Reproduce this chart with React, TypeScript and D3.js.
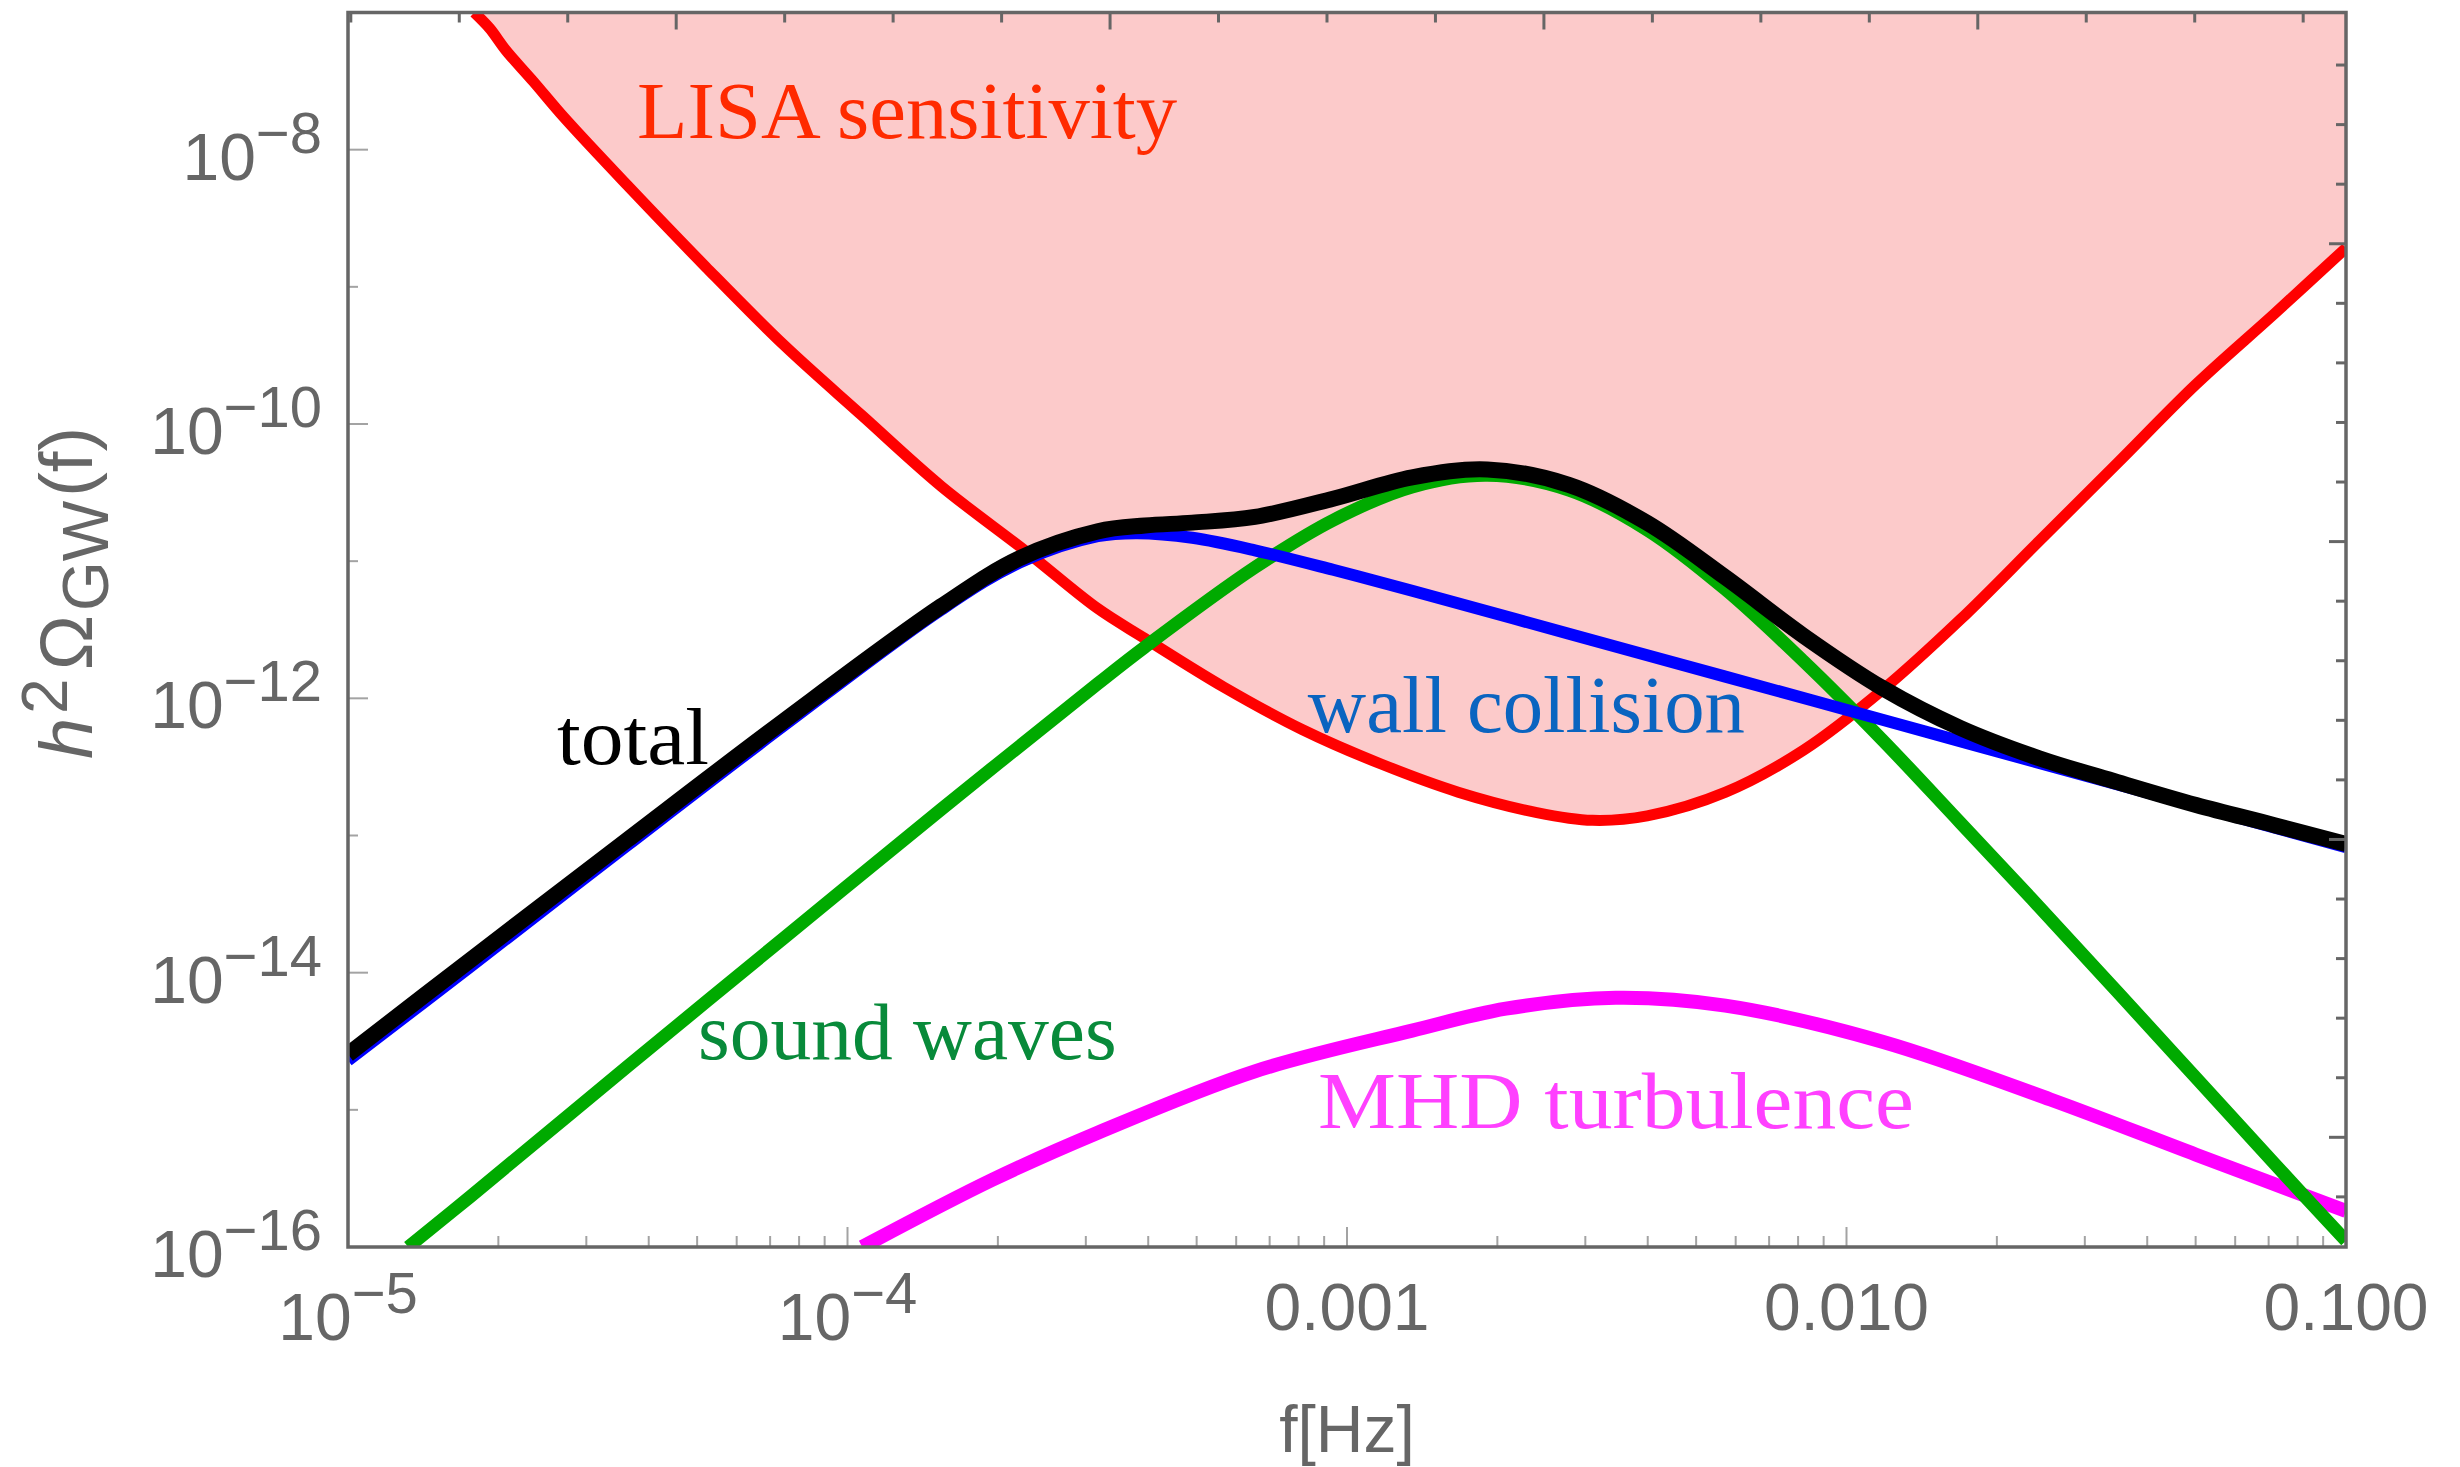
import React, { useEffect, useRef } from 'react';
import * as d3 from 'd3';

type Pt = [number, number];

// [f in Hz, h^2 Omega_GW]
const lisaSensitivity: Pt[] = [
  [1.79e-5, 1.0e-7], [1.92e-5, 7.69e-8], [2.07e-5, 5.31e-8], [2.35e-5, 3.14e-8],
  [2.71e-5, 1.71e-8], [3.62e-5, 5.52e-9], [5.2e-5, 1.4e-9], [7.46e-5, 3.76e-10],
  [1.07e-4, 1.15e-10], [1.54e-4, 3.52e-11], [2.29e-4, 1.16e-11], [3.17e-4, 4.51e-12],
  [3.94e-4, 2.73e-12], [5.66e-4, 1.21e-12], [8.13e-4, 5.93e-13], [1.17e-3, 3.32e-13],
  [1.67e-3, 2.07e-13], [2.4e-3, 1.47e-13], [3.1e-3, 1.29e-13], [3.99e-3, 1.39e-13],
  [5.73e-3, 2.07e-13], [8.22e-3, 4.21e-13], [1.18e-2, 1.15e-12], [1.69e-2, 3.75e-12],
  [2.43e-2, 1.4e-11], [3.49e-2, 5.21e-11], [5.01e-2, 1.95e-10], [7.19e-2, 6.37e-10],
  [0.1, 1.92e-9],
];

const wallCollision: Pt[] = [
  [1.0e-5, 2.29e-15], [1.76e-5, 1.11e-14], [3.62e-5, 8.45e-14], [7.46e-5, 6.33e-13],
  [1.54e-4, 4.43e-12], [2.21e-4, 9.77e-12], [3.17e-4, 1.52e-11], [3.8e-4, 1.6e-11],
  [4.9e-4, 1.48e-11], [6.54e-4, 1.2e-11], [9.38e-4, 8.65e-12], [1.35e-3, 6.09e-12],
  [2.78e-3, 2.96e-12], [5.72e-3, 1.44e-12], [1.18e-2, 6.98e-13], [2.43e-2, 3.38e-13],
  [5.01e-2, 1.64e-13], [0.1, 8.22e-14],
];

const soundWaves: Pt[] = [
  [1.32e-5, 1.0e-16], [1.76e-5, 2.34e-16], [3.62e-5, 2.06e-15], [7.46e-5, 1.79e-14],
  [1.54e-4, 1.55e-13], [3.17e-4, 1.28e-12], [3.94e-4, 2.37e-12], [6.54e-4, 9.0e-12],
  [9.38e-4, 1.99e-11], [1.35e-3, 3.48e-11], [1.91e-3, 4.23e-11], [2.78e-3, 3.3e-11],
  [3.99e-3, 1.69e-11], [5.72e-3, 6.23e-12], [8.21e-3, 1.86e-12], [1.18e-2, 4.97e-13],
  [1.69e-2, 1.24e-13], [2.43e-2, 3.02e-14], [3.49e-2, 7.21e-15], [5.01e-2, 1.71e-15],
  [7.19e-2, 4.05e-16], [0.1, 1.11e-16],
];

const mhdTurbulence: Pt[] = [
  [1.07e-4, 1.0e-16], [1.95e-4, 3.09e-16], [3.17e-4, 6.81e-16], [6.54e-4, 1.91e-15],
  [1.35e-3, 3.78e-15], [2.08e-3, 5.46e-15], [3.45e-3, 6.56e-15], [5.72e-3, 5.75e-15],
  [1.18e-2, 3.14e-15], [2.56e-2, 1.19e-15], [5.01e-2, 4.71e-16], [0.1, 1.83e-16],
];

const totalSignal: Pt[] = [
  [1.0e-5, 2.54e-15], [1.76e-5, 1.24e-14], [3.62e-5, 9.27e-14], [7.46e-5, 6.85e-13],
  [1.54e-4, 4.69e-12], [2.21e-4, 1.05e-11], [3.17e-4, 1.65e-11], [3.94e-4, 1.82e-11],
  [4.9e-4, 1.91e-11], [6.54e-4, 2.1e-11], [9.38e-4, 2.85e-11], [1.35e-3, 4.08e-11],
  [1.91e-3, 4.66e-11], [2.78e-3, 3.6e-11], [3.99e-3, 1.9e-11], [5.72e-3, 7.62e-12],
  [8.21e-3, 2.85e-12], [1.18e-2, 1.19e-12], [1.69e-2, 6.08e-13], [2.43e-2, 3.66e-13],
  [3.49e-2, 2.45e-13], [5.01e-2, 1.67e-13], [7.19e-2, 1.19e-13], [0.1, 8.67e-14],
];

// drawing order follows the original: turbulence, sound waves, wall, total on top
const curveData = [mhdTurbulence, soundWaves, wallCollision, totalSignal];
const curveColors = ['#ff00ff', '#00aa00', '#0000ff', '#000000'];
const curveWidths = [14, 13, 12, 16];

const labelTexts = ['LISA sensitivity', 'total', 'wall collision', 'sound waves', 'MHD turbulence'];
const labelColors = ['#ff2a00', '#000000', '#0a64c0', '#088a3a', '#ff40ff'];
const labelStart: Pt[] = [
  [3.79e-5, 1.22e-8], [2.62e-5, 3.32e-13], [8.35e-4, 5.69e-13], [5.02e-5, 2.35e-15], [8.75e-4, 7.38e-16],
];
const labelEndF = [4.57e-4, 5.28e-5, 6.26e-3, 3.46e-4, 1.365e-2];

const xDomain: Pt = [1e-5, 0.1];
const yDomain: Pt = [1e-16, 1e-7];
const xTickValues = [1e-5, 1e-4, 1e-3, 1e-2, 1e-1];
const xTickLabels = ['10^−5', '10^−4', '0.001', '0.010', '0.100'];
const yTickValues = [1e-16, 1e-14, 1e-12, 1e-10, 1e-8];
const yTickLabels = ['10^−16', '10^−14', '10^−12', '10^−10', '10^−8'];

const SANS = 'Liberation Sans, Arial, sans-serif';
const SERIF = 'Liberation Serif, Times New Roman, serif';
const GRAY = '#666666';

const App = () => {
  const svgRef = useRef<SVGSVGElement | null>(null);
  const width = 2460;
  const height = 1467;

  useEffect(() => {
    document.body.style.margin = '0';
    const svg = d3.select(svgRef.current);
    svg.selectAll('*').remove();

    const margin = { left: 348, right: 2346, top: 12.5, bottom: 1247 };
    const x = d3.scaleLog().domain(xDomain).range([margin.left, margin.right]);
    const y = d3.scaleLog().domain(yDomain).range([margin.bottom, margin.top]);

    svg.append('rect').attr('width', width).attr('height', height).attr('fill', '#ffffff');

    svg
      .append('defs')
      .append('clipPath')
      .attr('id', 'plot-clip')
      .append('rect')
      .attr('x', margin.left)
      .attr('y', margin.top)
      .attr('width', margin.right - margin.left)
      .attr('height', margin.bottom - margin.top);

    const plot = svg.append('g').attr('clip-path', 'url(#plot-clip)');

    const line = d3
      .line<Pt>()
      .x((d) => x(d[0]))
      .y((d) => y(d[1]))
      .curve(d3.curveCatmullRom.alpha(0.5));
    const area = d3
      .area<Pt>()
      .x((d) => x(d[0]))
      .y0(margin.top)
      .y1((d) => y(d[1]))
      .curve(d3.curveCatmullRom.alpha(0.5));

    plot.append('path').datum(lisaSensitivity).attr('d', area).attr('fill', '#fccaca');
    plot
      .append('path')
      .datum(lisaSensitivity)
      .attr('d', line)
      .attr('fill', 'none')
      .attr('stroke', '#ff0000')
      .attr('stroke-width', 11)
      .attr('stroke-linejoin', 'round');

    curveData.forEach((data, i) => {
      plot
        .append('path')
        .datum(data)
        .attr('d', line)
        .attr('fill', 'none')
        .attr('stroke', curveColors[i])
        .attr('stroke-width', curveWidths[i])
        .attr('stroke-linejoin', 'round');
    });

    // labels inside the plot
    labelTexts.forEach((text, i) => {
      const x0 = x(labelStart[i][0]);
      svg
        .append('text')
        .attr('x', x0)
        .attr('y', y(labelStart[i][1]))
        .attr('fill', labelColors[i])
        .attr('font-family', SERIF)
        .attr('font-size', 80)
        .attr('textLength', x(labelEndF[i]) - x0)
        .attr('lengthAdjust', 'spacingAndGlyphs')
        .text(text);
    });

    // ticks
    const ticks = svg.append('g');
    const tick = (x1: number, y1: number, x2: number, y2: number, color: string, w: number) =>
      ticks
        .append('line')
        .attr('x1', x1)
        .attr('y1', y1)
        .attr('x2', x2)
        .attr('y2', y2)
        .attr('stroke', color)
        .attr('stroke-width', w);

    // bottom: decades + minor 2..9
    for (let n = -5; n <= -1; n += 1) {
      for (let k = 1; k <= 9; k += 1) {
        const f = k * Math.pow(10, n);
        if (f > xDomain[1] * 1.0001) continue;
        const len = k === 1 ? 20 : 11;
        tick(x(f), margin.bottom, x(f), margin.bottom - len, '#a3a3a3', 2);
      }
    }
    // top: natural-log spaced ticks
    for (let m = -23; m <= -4; m += 1) {
      const f = Math.exp(m / 2);
      if (f <= xDomain[0] || f >= xDomain[1]) continue;
      const len = m % 4 === 0 ? 17 : 10;
      tick(x(f), margin.top, x(f), margin.top + len, GRAY, 3);
    }
    // left: each decade
    for (let n = -15; n <= -8; n += 1) {
      const v = Math.pow(10, n);
      const len = n % 2 === 0 ? 20 : 10;
      tick(margin.left, y(v), margin.left + len, y(v), '#a3a3a3', 2);
    }
    // right: natural-log spaced ticks
    for (let n = -40; n <= -15; n += 1) {
      const v = Math.exp(n);
      if (v <= yDomain[0] || v >= yDomain[1]) continue;
      const len = n % 5 === 0 ? 17 : 10;
      tick(margin.right, y(v), margin.right - len, y(v), GRAY, 3);
    }

    svg
      .append('rect')
      .attr('x', margin.left)
      .attr('y', margin.top)
      .attr('width', margin.right - margin.left)
      .attr('height', margin.bottom - margin.top)
      .attr('fill', 'none')
      .attr('stroke', GRAY)
      .attr('stroke-width', 3.5);

    const powerLabel = (sel: any, label: string) => {
      const [base, sup] = label.split('^');
      sel.append('tspan').text(base);
      if (sup) sel.append('tspan').attr('dy', -27).attr('font-size', 58).text(sup);
    };

    yTickValues.forEach((v, i) => {
      const t = svg
        .append('text')
        .attr('x', margin.left - 26)
        .attr('y', y(v) + 30)
        .attr('text-anchor', 'end')
        .attr('fill', GRAY)
        .attr('font-family', SANS)
        .attr('font-size', 66);
      powerLabel(t, yTickLabels[i]);
    });

    xTickValues.forEach((f, i) => {
      const label = xTickLabels[i];
      const t = svg
        .append('text')
        .attr('x', x(f))
        .attr('y', label.includes('^') ? 1340 : 1330)
        .attr('text-anchor', 'middle')
        .attr('fill', GRAY)
        .attr('font-family', SANS)
        .attr('font-size', 66);
      powerLabel(t, label);
    });

    // axis titles
    svg
      .append('text')
      .attr('x', (margin.left + margin.right) / 2)
      .attr('y', 1452)
      .attr('text-anchor', 'middle')
      .attr('fill', GRAY)
      .attr('font-family', SANS)
      .attr('font-size', 66)
      .text('f[Hz]');

    const yTitle = svg
      .append('text')
      .attr('transform', 'translate(92, 593) rotate(-90)')
      .attr('text-anchor', 'middle')
      .attr('fill', GRAY)
      .attr('font-family', SANS)
      .attr('font-size', 74);
    yTitle.append('tspan').attr('font-style', 'italic').text('h');
    yTitle.append('tspan').attr('dx', 4).attr('dy', -25).attr('font-size', 64).text('2');
    yTitle.append('tspan').attr('dx', 8).attr('dy', 25).text('Ω');
    yTitle.append('tspan').attr('dx', 4).attr('dy', 16).attr('font-size', 64).text('GW');
    yTitle.append('tspan').attr('dx', 4).attr('dy', -16).text('(f)');
  }, []);

  return (
    <svg
      ref={svgRef}
      width={width}
      height={height}
      style={{ display: 'block', position: 'absolute', left: 0, top: 0 }}
    />
  );
};

export default App;
